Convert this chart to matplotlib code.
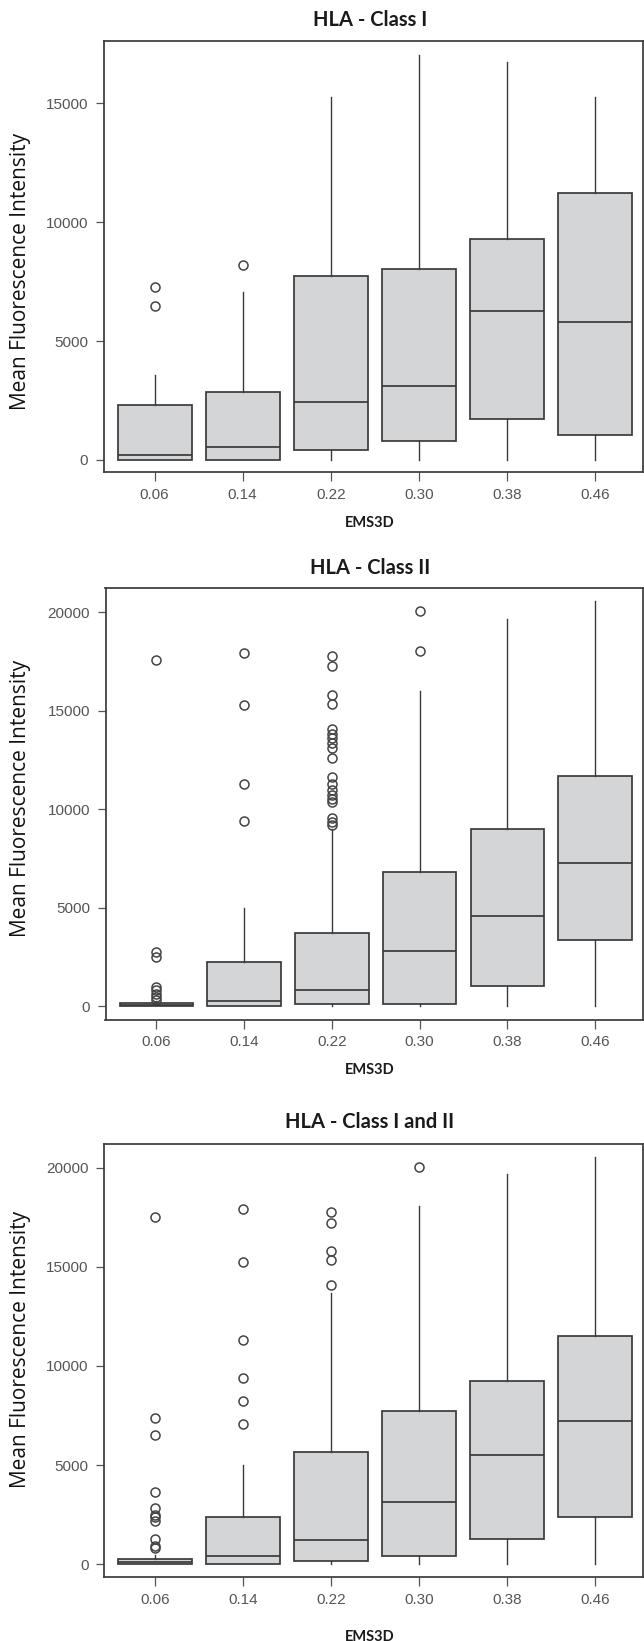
import numpy as np
import matplotlib
matplotlib.use("Agg")
import matplotlib.pyplot as plt

# EMS3D groups (x axis)
ems3d = ["0.06", "0.14", "0.22", "0.30", "0.38", "0.46"]

# HLA - Class I
c1_q1 = [0, 0, 430, 790, 1710, 1040]
c1_med = [200, 540, 2420, 3110, 6250, 5820]
c1_q3 = [2310, 2870, 7720, 8040, 9300, 11230]
c1_lo = [0, 0, 0, 0, 0, 0]
c1_hi = [3570, 7080, 15290, 17030, 16750, 15290]
c1_out = [[7280, 6490], [8200], [], [], [], []]

# HLA - Class II
c2_q1 = [0, 0, 120, 130, 1010, 3350]
c2_med = [40, 250, 840, 2780, 4600, 7250]
c2_q3 = [170, 2240, 3720, 6820, 8980, 11680]
c2_lo = [0, 0, 0, 0, 0, 0]
c2_hi = [250, 4970, 9000, 16000, 19680, 20560]
c2_out = [[300, 450, 620, 800, 980, 2480, 2750, 17570],
          [9400, 11300, 15280, 17930],
          [9200, 9350, 9550, 10350, 10500, 10750, 11000, 11300, 11650,
           12600, 13100, 13350, 13600, 13800, 14100, 15350, 15800, 17300, 17800],
          [18060, 20050], [], []]

# HLA - Class I and II
c3_q1 = [0, 0, 160, 390, 1280, 2380]
c3_med = [90, 390, 1190, 3120, 5510, 7220]
c3_q3 = [230, 2360, 5670, 7730, 9260, 11520]
c3_lo = [0, 0, 0, 0, 0, 0]
c3_hi = [440, 5000, 13700, 18080, 19680, 20530]
c3_out = [[800, 920, 1280, 2160, 2390, 2480, 2840, 3620, 6520, 7360, 17540],
          [7060, 8230, 9410, 11310, 15270, 17910],
          [14100, 15340, 15800, 17230, 17770],
          [20030], [], []]

W, H = 644, 1641
fig = plt.figure(figsize=(W / 100, H / 100), dpi=100)

box_face = "#d4d5d7"
dark = "#3a3a3a"
tick_col = "#555555"


def stats(q1, med, q3, lo, hi, out):
    return [dict(q1=q1[i], med=med[i], q3=q3[i], whislo=lo[i], whishi=hi[i],
                 fliers=out[i]) for i in range(len(q1))]


def panel(px, title, st, ylim, yticks, title_y, xlab_y, ylab_y):
    left, top, right, bottom = px
    ax = fig.add_axes([left / W, 1 - bottom / H, (right - left) / W, (bottom - top) / H])
    pos = np.arange(len(ems3d))
    ax.bxp(st, positions=pos, widths=0.84, patch_artist=True, showcaps=False,
           boxprops=dict(facecolor=box_face, edgecolor=dark, linewidth=1.25),
           medianprops=dict(color=dark, linewidth=1.25),
           whiskerprops=dict(color=dark, linewidth=1.0),
           flierprops=dict(marker="o", markersize=6.5, markerfacecolor="none",
                           markeredgecolor="#444444", markeredgewidth=1.1))
    ax.set_xlim(-0.58, 5.54)
    ax.set_ylim(*ylim)
    ax.set_xticks(pos)
    ax.set_xticklabels(ems3d)
    ax.set_yticks(yticks)
    ax.set_yticklabels([str(v) for v in yticks])
    for s in ax.spines.values():
        s.set_color(dark)
        s.set_linewidth(1.25)
    ax.tick_params(axis="both", colors=tick_col, labelcolor=tick_col, width=0.9,
                   labelsize=11)
    ax.tick_params(axis="y", length=6, pad=5)
    ax.tick_params(axis="x", length=6.5, pad=5)
    for lab in ax.get_xticklabels() + ax.get_yticklabels():
        lab.set_fontfamily("Liberation Sans")
    fig.text(370 / W, 1 - title_y / H, title, ha="center", va="center",
             fontsize=14.5, fontweight="bold", family="Lato", color="#1a1a1a")
    fig.text(370 / W, 1 - xlab_y / H, "EMS3D", ha="center", va="center",
             fontsize=10.5, fontweight="bold", family="Lato", color="#1a1a1a")
    fig.text(20.5 / W, 1 - ylab_y / H, "Mean Fluorescence Intensity", rotation=90,
             ha="center", va="center", fontsize=15, family="Open Sans", color="#111111")
    return ax


panel((103.5, 40.5, 642.5, 472), "HLA - Class I",
      stats(c1_q1, c1_med, c1_q3, c1_lo, c1_hi, c1_out),
      (-510, 17650), [0, 5000, 10000, 15000], 19.9, 523, 271)
panel((105.5, 588.1, 642.5, 1019.5), "HLA - Class II",
      stats(c2_q1, c2_med, c2_q3, c2_lo, c2_hi, c2_out),
      (-676, 21235), [0, 5000, 10000, 15000, 20000], 568.2, 1070, 798.7)
panel((103.9, 1143.8, 642.5, 1577), "HLA - Class I and II",
      stats(c3_q1, c3_med, c3_q3, c3_lo, c3_hi, c3_out),
      (-656, 21221), [0, 5000, 10000, 15000, 20000], 1122.3, 1637, 1349)

fig.savefig("out.png", dpi=100)
